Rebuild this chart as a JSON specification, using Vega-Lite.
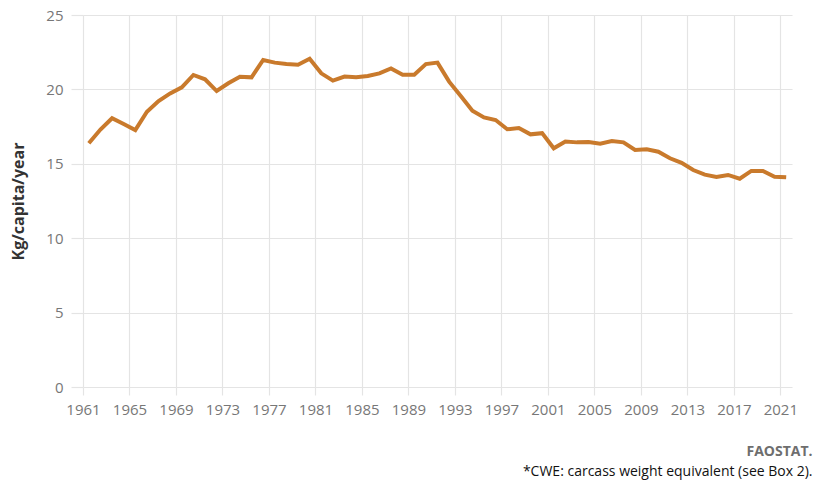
{
  "$schema": "https://vega.github.io/schema/vega-lite/v6.json",
  "width": 709,
  "height": 372,
  "autosize": {"type": "none"},
  "padding": {"left": 83, "top": 15, "right": 25, "bottom": 96},
  "background": "white",
  "config": {
    "font": "Open Sans",
    "view": {"stroke": null}
  },
  "title": {
    "text": "FAOSTAT.",
    "subtitle": "*CWE: carcass weight equivalent (see Box 2).",
    "orient": "bottom",
    "anchor": "end",
    "dx": 15,
    "offset": 28,
    "font": "Open Sans",
    "fontSize": 14,
    "fontWeight": "bold",
    "color": "#6e6e6e",
    "subtitleFont": "Open Sans",
    "subtitleFontSize": 14,
    "subtitleColor": "#111111",
    "subtitlePadding": 6
  },
  "data": {
    "values": [
      {"year": 1961, "value": 16.38},
      {"year": 1962, "value": 17.3},
      {"year": 1963, "value": 18.06},
      {"year": 1964, "value": 17.67},
      {"year": 1965, "value": 17.27},
      {"year": 1966, "value": 18.5},
      {"year": 1967, "value": 19.22},
      {"year": 1968, "value": 19.73},
      {"year": 1969, "value": 20.14},
      {"year": 1970, "value": 20.97},
      {"year": 1971, "value": 20.68},
      {"year": 1972, "value": 19.89},
      {"year": 1973, "value": 20.41},
      {"year": 1974, "value": 20.85},
      {"year": 1975, "value": 20.81},
      {"year": 1976, "value": 21.98},
      {"year": 1977, "value": 21.8},
      {"year": 1978, "value": 21.7},
      {"year": 1979, "value": 21.66},
      {"year": 1980, "value": 22.06},
      {"year": 1981, "value": 21.08},
      {"year": 1982, "value": 20.59},
      {"year": 1983, "value": 20.86},
      {"year": 1984, "value": 20.81},
      {"year": 1985, "value": 20.9},
      {"year": 1986, "value": 21.08},
      {"year": 1987, "value": 21.41},
      {"year": 1988, "value": 20.99},
      {"year": 1989, "value": 20.99},
      {"year": 1990, "value": 21.7},
      {"year": 1991, "value": 21.8},
      {"year": 1992, "value": 20.52},
      {"year": 1993, "value": 19.56},
      {"year": 1994, "value": 18.57},
      {"year": 1995, "value": 18.12},
      {"year": 1996, "value": 17.94},
      {"year": 1997, "value": 17.32},
      {"year": 1998, "value": 17.41},
      {"year": 1999, "value": 16.98},
      {"year": 2000, "value": 17.06},
      {"year": 2001, "value": 16.04},
      {"year": 2002, "value": 16.49},
      {"year": 2003, "value": 16.44},
      {"year": 2004, "value": 16.46},
      {"year": 2005, "value": 16.35},
      {"year": 2006, "value": 16.53},
      {"year": 2007, "value": 16.44},
      {"year": 2008, "value": 15.93},
      {"year": 2009, "value": 15.97},
      {"year": 2010, "value": 15.81},
      {"year": 2011, "value": 15.37},
      {"year": 2012, "value": 15.07},
      {"year": 2013, "value": 14.58},
      {"year": 2014, "value": 14.27},
      {"year": 2015, "value": 14.11},
      {"year": 2016, "value": 14.25},
      {"year": 2017, "value": 14.0},
      {"year": 2018, "value": 14.52},
      {"year": 2019, "value": 14.52},
      {"year": 2020, "value": 14.13},
      {"year": 2021, "value": 14.09}
    ]
  },
  "mark": {"type": "line", "color": "#c97a2c", "strokeWidth": 4, "strokeJoin": "miter", "clip": false},
  "encoding": {
    "x": {
      "field": "year",
      "type": "quantitative",
      "scale": {"domain": [1960.5, 2021.5], "nice": false, "zero": false},
      "axis": {
        "title": null,
        "values": [1960.5, 1964.5, 1968.5, 1972.5, 1976.5, 1980.5, 1984.5, 1988.5, 1992.5, 1996.5, 2000.5, 2004.5, 2008.5, 2012.5, 2016.5, 2020.5],
        "labelExpr": "format(datum.value + 0.5, 'd')",
        "labelDx": 6,
        "grid": true,
        "gridColor": "#e4e4e4",
        "gridWidth": 1.2,
        "domain": false,
        "ticks": true,
        "tickSize": 8,
        "tickColor": "#e4e4e4",
        "tickWidth": 1.2,
        "labelPadding": 7,
        "labelFont": "Open Sans",
        "labelFontSize": 15,
        "labelColor": "#777777",
        "labelFlush": false
      }
    },
    "y": {
      "field": "value",
      "type": "quantitative",
      "scale": {"domain": [0, 25], "nice": false},
      "axis": {
        "title": "Kg/capita/year",
        "titleFont": "Open Sans",
        "titleFontSize": 16,
        "titleFontWeight": "bold",
        "titleColor": "#333333",
        "titlePadding": 19,
        "values": [0, 5, 10, 15, 20, 25],
        "grid": true,
        "gridColor": "#e4e4e4",
        "gridWidth": 1.2,
        "domain": false,
        "ticks": true,
        "tickSize": 12,
        "tickColor": "#e4e4e4",
        "tickWidth": 1.2,
        "labelPadding": 8,
        "labelFont": "Open Sans",
        "labelFontSize": 15,
        "labelColor": "#777777"
      }
    }
  }
}
